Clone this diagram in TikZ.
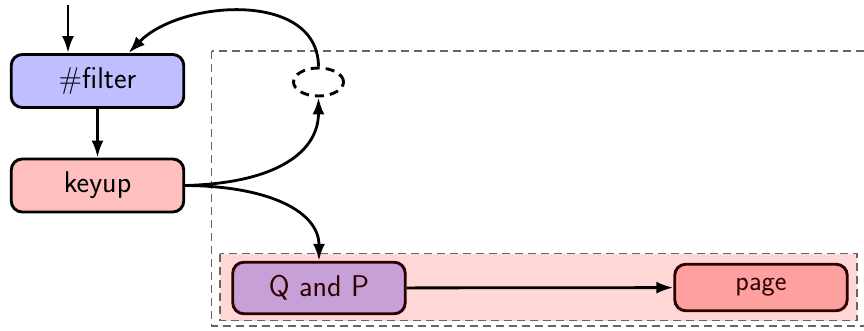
\documentclass[tikz,border=0pt]{standalone}
\usetikzlibrary{arrows.meta,shapes.geometric}
\definecolor{filterfill}{HTML}{BFBFFF}
\definecolor{keyfill}{HTML}{FFBFBF}
\definecolor{qpfill}{HTML}{C8A0D8}
\definecolor{pagefill}{HTML}{FFA0A0}
\definecolor{groupfill}{HTML}{FFD7D7}
\definecolor{darkline}{HTML}{2E0000}
\definecolor{dashgray}{HTML}{666666}
\tikzset{
  box/.style={draw, rectangle, rounded corners=11pt, line width=2.9pt,
    minimum width=172.5pt, minimum height=53pt, inner sep=0pt,
    font=\sffamily\fontsize{30}{32}\selectfont},
  darkbox/.style={box, draw=darkline, text=darkline},
  conn/.style={line width=2.8pt, -{Latex[length=17pt,width=12pt]}},
  grouprect/.style={draw=dashgray, line width=1.4pt, dash pattern=on 8pt off 5pt},
}
\begin{document}
\begin{tikzpicture}[x=1pt,y=-1pt]
\useasboundingbox (0,0) rectangle (864,330);
% groups
\draw[grouprect] (211.5,51) rectangle (867,326);
\draw[grouprect, fill=groupfill] (220,253.5) rectangle (857,320.5);
% nodes
\node[box, fill=filterfill] (filter) at (97.5,81) {\#filter};
\node[box, fill=keyfill] (keyup) at (97.5,185.5) {keyup};
\node[draw, ellipse, dash pattern=on 9pt off 6pt, line width=2.9pt,
  minimum width=50pt, minimum height=28pt, inner sep=0pt] (ell) at (318.5,82) {};
\node[darkbox, fill=qpfill, minimum height=51.5pt] (qp) at (319,288) {Q and P};
\node[darkbox, fill=pagefill, minimum height=46.5pt, font=\sffamily\fontsize{28}{30}\selectfont] (page) at (761,287.5) {page};
\coordinate (start) at (68,5);
% connectors
\draw[conn] (start) -- (start |- filter.north);
\draw[conn] (filter) -- (keyup);
\draw[conn] (ell.north) .. controls (318,-10) and (180,0) .. ([xshift=31pt]filter.north);
\draw[conn] (keyup.east) .. controls (280,183) and (318.5,150) .. (ell.south);
\draw[conn] (keyup.east) .. controls (270,186) and (319,212) .. (qp.north);
\draw[conn] (qp) -- (page);
\end{tikzpicture}
\end{document}
